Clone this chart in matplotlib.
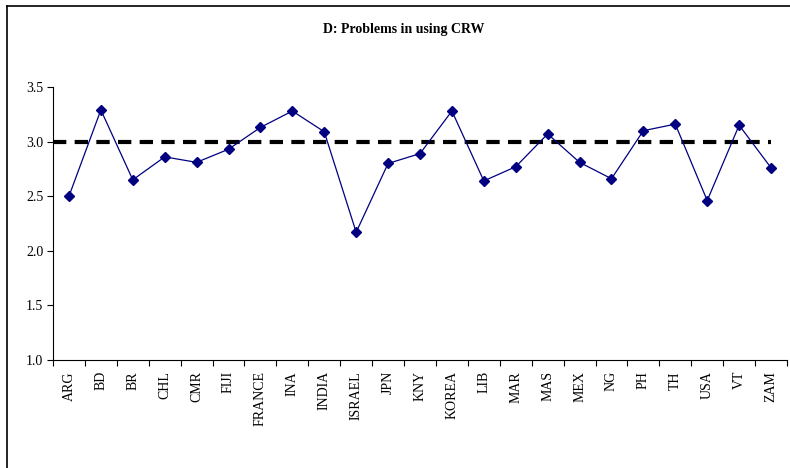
import matplotlib
matplotlib.use('Agg')
import matplotlib.pyplot as plt
from matplotlib.lines import Line2D

plt.rcParams['font.family'] = ['Liberation Serif', 'DejaVu Serif']

countries = ['ARG', 'BD', 'BR', 'CHL', 'CMR', 'FIJI', 'FRANCE', 'INA', 'INDIA', 'ISRAEL',
             'JPN', 'KNY', 'KOREA', 'LIB', 'MAR', 'MAS', 'MEX', 'NG', 'PH', 'TH',
             'USA', 'VT', 'ZAM']
scores = [2.50, 3.29, 2.65, 2.86, 2.81, 2.93, 3.13, 3.28, 3.09, 2.17,
          2.80, 2.89, 3.28, 2.64, 2.77, 3.07, 2.81, 2.66, 3.10, 3.16,
          2.46, 3.15, 2.76]
benchmark = 3.0
yticks = [1.0, 1.5, 2.0, 2.5, 3.0, 3.5]

W, H = 790, 468
fig = plt.figure(figsize=(W / 100, H / 100), dpi=100)
ax = fig.add_axes([53 / W, 1 - 360 / H, (787 - 53) / W, (360 - 87) / H])

x = range(len(countries))
ax.plot([-0.5, len(countries) - 1], [benchmark, benchmark], color='black', lw=3,
        dashes=(3.2, 2.0), zorder=1)
ax.plot(x, scores, color='#000080', lw=0.9, marker='D', markersize=5.5,
        markerfacecolor='#000080', markeredgecolor='#000080', zorder=2)

ax.set_xlim(-0.5, len(countries) - 0.5)
ax.set_ylim(1.0, 3.5)
ax.set_yticks(yticks)
ax.set_yticklabels(['%.1f' % v for v in yticks], fontsize=10)
ax.set_xticks([i + 0.5 for i in range(-1, len(countries))], minor=False)
ax.set_xticklabels([])
ax.set_xticks(list(x), minor=True)
ax.set_xticklabels(countries, minor=True, rotation=90, fontsize=10)
ax.tick_params(axis='x', which='major', direction='out', length=4, width=0.8)
ax.tick_params(axis='x', which='minor', length=0, pad=8)
ax.tick_params(axis='y', direction='out', length=4, width=0.8, pad=3)
for s in ['top', 'right']:
    ax.spines[s].set_visible(False)
for s in ['left', 'bottom']:
    ax.spines[s].set_linewidth(0.8)

fig.text(404 / W, 1 - 30 / H, 'D: Problems in using CRW', ha='center', va='center',
         fontsize=10, fontweight='bold')

# outer frame (only top and left edges visible in the crop)
fig.add_artist(Line2D([7 / W, 7 / W], [0, 1 - 6 / H], transform=fig.transFigure,
                      color='black', lw=1.2))
fig.add_artist(Line2D([7 / W, 1], [1 - 6 / H, 1 - 6 / H], transform=fig.transFigure,
                      color='black', lw=1.2))

fig.savefig('out.png', dpi=100)
